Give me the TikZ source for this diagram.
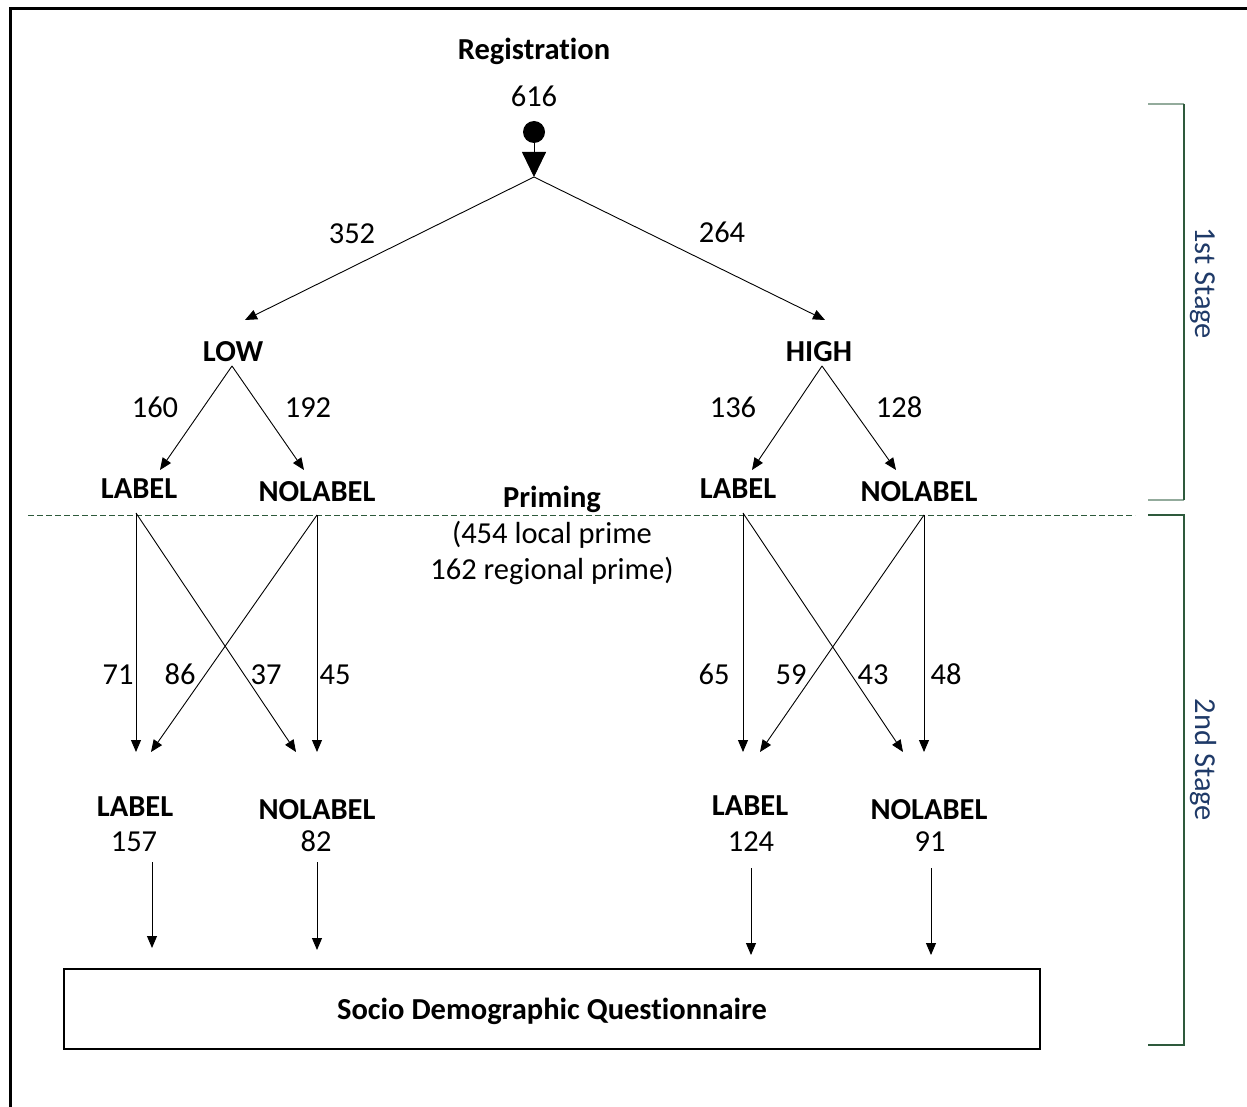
\documentclass[tikz,border=0pt]{standalone}
\usepackage{fontspec}
\setmainfont{Carlito}[Ligatures=NoCommon]
\usetikzlibrary{arrows.meta}

\definecolor{stagegreen}{HTML}{2E5A3C}
\definecolor{stagelight}{HTML}{93AB9C}
\definecolor{stageblue}{HTML}{1F3A68}

\tikzset{
    flow/.style={-{Triangle[length=12pt,width=10pt]}, line width=0.9pt},
    grp/.style={font=\fontsize{30.5}{36}\selectfont\bfseries, inner sep=0pt, text height=20pt, text depth=0pt},
    cnt/.style={font=\fontsize{30.5}{36}\selectfont, inner sep=0pt, text height=20pt, text depth=0pt},
    stage/.style={font=\fontsize{30.5}{36}\selectfont, text=stageblue, inner sep=0pt, rotate=-90},
}

\begin{document}
\begin{tikzpicture}[x=1pt,y=-1pt]
    \useasboundingbox (0,0) rectangle (1247,1107);
    \draw[line width=3pt] (10,1107) -- (10,9) -- (1247,9);

    % first stage
    \node[grp] (reg) at (534,50) {Registration};
    \node[cnt] (total) at (534,97) {616};
    \node[circle, fill, inner sep=0pt, minimum size=22pt] (start) at (534,132) {};
    \coordinate (split) at (534,177);
    \draw[-{Triangle[length=25pt,width=24pt]}, line width=0.9pt] (start) -- (split);

    \node[grp] (low) at (233,351) {LOW};
    \node[grp] (high) at (819,351) {HIGH};
    \coordinate (lowin) at (245,320);
    \coordinate (highin) at (825,320);
    \draw[flow] (split) -- (lowin);
    \draw[flow] (split) -- (highin);
    \node[cnt] (n352) at (352,234) {352};
    \node[cnt] (n264) at (722,233) {264};

    \node[grp] (lowlab) at (139,488) {LABEL};
    \node[grp] (lownolab) at (317,491) {NOLABEL};
    \node[grp] (highlab) at (738,488) {LABEL};
    \node[grp] (highnolab) at (919,491) {NOLABEL};

    \coordinate (lowout) at (232,366);
    \coordinate (highout) at (822,366);
    \coordinate (lowlabin) at (160,470);
    \coordinate (lownolabin) at (304,470);
    \coordinate (highlabin) at (752,470);
    \coordinate (highnolabin) at (896,470);
    \draw[flow] (lowout) -- (lowlabin);
    \draw[flow] (lowout) -- (lownolabin);
    \draw[flow] (highout) -- (highlabin);
    \draw[flow] (highout) -- (highnolabin);
    \node[cnt] (n160) at (155,407) {160};
    \node[cnt] (n192) at (308,407) {192};
    \node[cnt] (n136) at (733,407) {136};
    \node[cnt] (n128) at (899,407) {128};

    % priming
    \draw[dashed, dash pattern=on 6pt off 3pt, stagegreen, line width=0.8pt] (28,515) -- (1135,515);
    \node[grp] (priming) at (552,497) {Priming};
    \node[font=\fontsize{30.5}{36}\selectfont, align=center, inner sep=0pt] (primenote) at (552,553) {(454 local prime\\162 regional prime)};

    % second stage
    \coordinate (ll) at (136,513);
    \coordinate (ln) at (317,515);
    \coordinate (hl) at (743,513);
    \coordinate (hn) at (924,515);
    \coordinate (ll2) at (136,752);
    \coordinate (ll3) at (151,752);
    \coordinate (ln2) at (296,752);
    \coordinate (ln3) at (317,752);
    \coordinate (hl2) at (743,752);
    \coordinate (hl3) at (760,752);
    \coordinate (hn2) at (903,752);
    \coordinate (hn3) at (924,752);
    \draw[flow] (ll) -- (ll2);
    \draw[flow] (ll) -- (ln2);
    \draw[flow] (ln) -- (ln3);
    \draw[flow] (ln) -- (ll3);
    \draw[flow] (hl) -- (hl2);
    \draw[flow] (hl) -- (hn2);
    \draw[flow] (hn) -- (hn3);
    \draw[flow] (hn) -- (hl3);
    \node[cnt] (n71) at (118,674) {71};
    \node[cnt] (n86) at (180,674) {86};
    \node[cnt] (n37) at (266,674) {37};
    \node[cnt] (n45) at (335,674) {45};
    \node[cnt] (n65) at (714,674) {65};
    \node[cnt] (n59) at (791,674) {59};
    \node[cnt] (n43) at (873,674) {43};
    \node[cnt] (n48) at (946,674) {48};

    \node[grp] (endlowlab) at (135,806) {LABEL};
    \node[cnt] (n157) at (134,841) {157};
    \node[grp] (endlownolab) at (317,809) {NOLABEL};
    \node[cnt] (n82) at (316,841) {82};
    \node[grp] (endhighlab) at (750,805) {LABEL};
    \node[cnt] (n124) at (751,841) {124};
    \node[grp] (endhighnolab) at (929,809) {NOLABEL};
    \node[cnt] (n91) at (930,841) {91};

    % questionnaire
    \node[grp, draw, line width=1.6pt, minimum width=976pt, minimum height=80pt] (quest) at (552,1009) {Socio Demographic Questionnaire};
    \coordinate (q1) at (152,948);
    \coordinate (q2) at (317,950);
    \coordinate (q3) at (751,955);
    \coordinate (q4) at (931,955);
    \draw[flow] (152,862) -- (q1);
    \draw[flow] (317,862) -- (q2);
    \draw[flow] (751,868) -- (q3);
    \draw[flow] (931,868) -- (q4);

    % stage brackets
    \draw[stagelight, line width=1.5pt] (1148,104) -- (1184,104);
    \draw[stagelight, line width=1.5pt] (1148,500) -- (1184,500);
    \draw[stagegreen, line width=1.2pt] (1184,104) -- (1184,500);
    \node[stage] (stage1) at (1203,283) {1st Stage};
    \draw[stagegreen, line width=1.2pt] (1148,515) -- (1184,515) -- (1184,1045) -- (1148,1045);
    \node[stage] (stage2) at (1203,760) {2nd Stage};
\end{tikzpicture}
\end{document}
